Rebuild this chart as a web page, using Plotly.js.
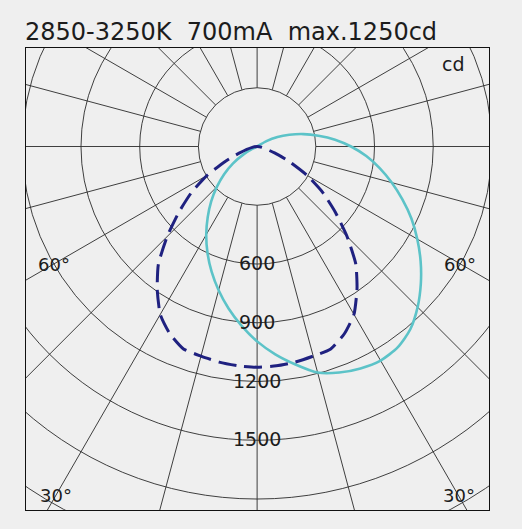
<!DOCTYPE html>
<html>
<head>
<meta charset="utf-8">
<script src="https://cdn.plot.ly/plotly-3.0.1.min.js"></script>
<style>
html,body{margin:0;padding:0;background:#efefef;}
#chart{width:522px;height:529px;}
</style>
</head>
<body>
<div id="chart"></div>
<script>
// ---- chart values ----
const titleText = "2850-3250K  700mA  max.1250cd";
const unitLabel = "cd";

// C0-C180 plane (dashed, navy): angle from nadir (deg), intensity (cd)
const planeAAngles = [-90,-80,-70,-65,-60,-55,-50,-45,-40,-35,-30,-25,-20,-15,-10,-5,0,5,10,15,20,25,30,35,40,45,50,55,60,65,70,80,90];
const planeACd     = [0,25,95,180,295,410,522,650,785,890,990,1055,1100,1108,1118,1124,1127,1124,1118,1108,1100,1055,990,890,785,650,522,410,295,180,95,25,0];

// C90-C270 plane (solid, cyan): angle from nadir (deg), intensity (cd)
const planeBAngles = [-70,-65,-60,-55,-50,-45,-40,-35,-30,-25,-20,-15,-10,-5,0,5,10,15,20,25,30,35,40,45,50,55,60,65,70,75,80,85,90,95,100,105,110,115,120,125];
const planeBCd     = [0,25,80,150,220,290,365,440,520,600,680,760,840,918,995,1065,1130,1195,1228,1250,1262,1252,1218,1160,1092,1020,945,870,790,712,636,560,480,400,318,245,175,115,55,0];

// grid
const ringValues   = [300,600,900,1200,1500,1800,2100,2400];
const ringLabels   = [600,900,1200,1500];
const spokeAngles  = [0,15,30,45,60,75,90,105,120,135,150,165,180,195,210,225,240,255,270,285,300,315,330,345];
const angleLabels  = [{a:-60,r:1200,t:"60°"},{a:60,r:1200,t:"60°"},{a:-30,r:2060,t:"30°"},{a:30,r:2060,t:"30°"}];

// ---- helpers: polar (angle from nadir, cd) -> axis coordinates ----
const rad = d => d*Math.PI/180;
const px = (a,r) => r*Math.sin(rad(a));
const py = (a,r) => -r*Math.cos(rad(a));

const gridColor = "#2a2a2a";
const textColor = "#1c1c1c";
const fontFam = "DejaVu Sans, Liberation Sans, Arial, sans-serif";

const shapes = [];
ringValues.forEach(r => shapes.push({
  type:"circle", xref:"x", yref:"y", x0:-r, x1:r, y0:-r, y1:r,
  line:{color:gridColor, width:0.9}, layer:"below"
}));
spokeAngles.forEach(a => shapes.push({
  type:"line", xref:"x", yref:"y",
  x0:px(a,300), y0:py(a,300), x1:px(a,4000), y1:py(a,4000),
  line:{color:gridColor, width:0.9}, layer:"below"
}));

const annotations = [];
annotations.push({
  text:titleText, xref:"paper", yref:"paper", x:0, y:1, xanchor:"left", yanchor:"bottom",
  xshift:-3, yshift:0, showarrow:false, font:{family:fontFam, size:24, color:textColor}
});
annotations.push({
  text:unitLabel, xref:"paper", yref:"paper", x:1, y:1, xanchor:"right", yanchor:"top",
  xshift:-22, yshift:-3, showarrow:false, font:{family:fontFam, size:19, color:textColor}
});
ringLabels.forEach(v => annotations.push({
  text:String(v), xref:"x", yref:"y", x:0, y:-v, xanchor:"center", yanchor:"middle",
  yshift:1, showarrow:false, font:{family:fontFam, size:19, color:textColor}
}));
angleLabels.forEach(l => annotations.push({
  text:l.t, xref:"x", yref:"y", x:px(l.a,l.r), y:py(l.a,l.r), xanchor:"center", yanchor:"middle",
  showarrow:false, font:{family:fontFam, size:18, color:textColor}
}));

const traceB = {
  type:"scatter", mode:"lines",
  x: planeBAngles.map((a,i)=>px(a,planeBCd[i])),
  y: planeBAngles.map((a,i)=>py(a,planeBCd[i])),
  line:{color:"#5cc3c8", width:2.6, shape:"spline", smoothing:0.7},
  hoverinfo:"skip", showlegend:false
};
const traceA = {
  type:"scatter", mode:"lines",
  x: planeAAngles.map((a,i)=>px(a,planeACd[i])),
  y: planeAAngles.map((a,i)=>py(a,planeACd[i])),
  line:{color:"#1f2180", width:3, dash:"18px,8px", shape:"spline", smoothing:0.5},
  hoverinfo:"skip", showlegend:false
};

const axisCommon = {
  showgrid:false, zeroline:false, showticklabels:false, ticks:"",
  showline:true, mirror:true, linecolor:"#111", linewidth:1.3, fixedrange:true
};

const layout = {
  width:522, height:529,
  margin:{l:26, r:33, t:48, b:19},
  paper_bgcolor:"#efefef", plot_bgcolor:"#efefef",
  xaxis:Object.assign({range:[-1181,1185]}, axisCommon),
  yaxis:Object.assign({range:[-1856,503]}, axisCommon),
  shapes:shapes, annotations:annotations, showlegend:false
};

Plotly.newPlot("chart", [traceB, traceA], layout, {displayModeBar:false, staticPlot:true});
</script>
</body>
</html>
